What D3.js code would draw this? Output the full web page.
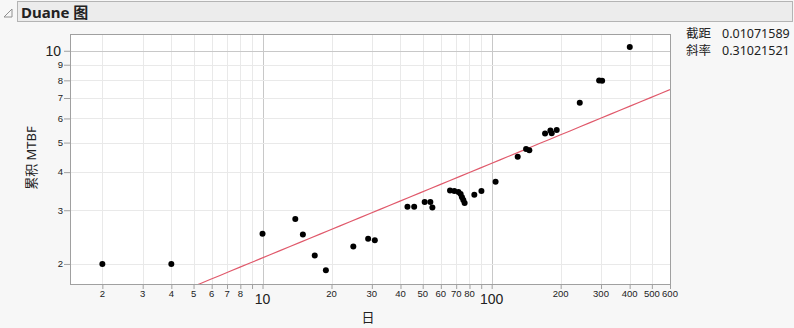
<!DOCTYPE html>
<html>
<head>
<meta charset="utf-8">
<script src="https://cdn.jsdelivr.net/npm/d3@7"></script>
<style>
body{margin:0;background:#f7f7f7;font-family:"Noto Sans","Noto Sans CJK SC",sans-serif;}
svg text{fill:#222;}
</style>
</head>
<body>
<svg id="duane"></svg>
<script>
// failure times (days) and cumulative MTBF
var times=[2,4,10,13.9,15,16.9,18.9,24.9,28.9,30.9,42.9,45.9,51,54,55.1,65.8,68.7,71.6,73.2,74.2,75.2,76.2,84,90.2,104,129.9,141.3,146,171,180.4,182.8,192.2,242.3,294.4,303.4,400.5]
var mtbf=[2,2,2.51,2.81,2.5,2.13,1.906,2.28,2.42,2.39,3.08,3.08,3.19,3.19,3.06,3.48,3.47,3.44,3.39,3.31,3.24,3.17,3.37,3.47,3.72,4.49,4.76,4.72,5.35,5.48,5.37,5.5,6.75,7.99,7.97,10.28]
var fitNames=["截距","斜率"]
var fitValues=["0.01071589","0.31021521"]
var intercept=0.01071589, slope=0.31021521
var xTicks=[2,3,4,5,6,7,8,9,10,20,30,40,50,60,70,80,90,100,200,300,400,500,600]
var xLabels={2:"2",3:"3",4:"4",5:"5",6:"6",7:"7",8:"8",20:"20",30:"30",40:"40",50:"50",60:"60",70:"70",80:"80",200:"200",300:"300",400:"400",500:"500",600:"600"}
var xMajor=[10,100]
var yTicks=[2,3,4,5,6,7,8,9,10]
var yMajor=[10]

var screen={width:794,height:328}
var margins={left:70,top:34,right:124,bottom:44}
var graph={width:screen.width-margins.left-margins.right,height:screen.height-margins.top-margins.bottom}

var svg=d3.select("#duane").attr("width",screen.width).attr("height",screen.height)

// title bar
svg.append("rect").attr("x",17.5).attr("y",1.5).attr("width",775).attr("height",20)
    .attr("fill","#ececec").attr("stroke","#b4b4b4")
svg.append("path").attr("d","M4,17 L12,9 L12,17 Z").attr("fill","none").attr("stroke","#909090")
svg.append("text").text("Duane 图").attr("x",21).attr("y",17.5)
    .attr("font-size",15).attr("font-weight","bold").attr("fill","#000")

var xScale=d3.scaleLog().domain([1.445,600]).range([0,graph.width])
var yScale=d3.scaleLog().domain([1.719,11.35]).range([graph.height,0])

var plot=svg.append("g").attr("transform","translate("+margins.left+","+margins.top+")")
plot.append("rect").attr("width",graph.width).attr("height",graph.height).attr("fill","#fff")

// grid
plot.selectAll(".vg").data(xTicks).enter().append("line")
    .attr("x1",function(d){return Math.round(xScale(d))+0.5}).attr("x2",function(d){return Math.round(xScale(d))+0.5})
    .attr("y1",0).attr("y2",graph.height)
    .attr("stroke",function(d){return xMajor.indexOf(d)>=0?"#c8c8c8":"#e9e9e9"})
plot.selectAll(".hg").data(yTicks).enter().append("line")
    .attr("y1",function(d){return Math.round(yScale(d))+0.5}).attr("y2",function(d){return Math.round(yScale(d))+0.5})
    .attr("x1",0).attr("x2",graph.width)
    .attr("stroke",function(d){return yMajor.indexOf(d)>=0?"#c8c8c8":"#e9e9e9"})

// fit line, clipped to plot
plot.append("clipPath").attr("id","clip").append("rect").attr("width",graph.width).attr("height",graph.height)
var lineX=d3.range(0,61).map(function(i){return 1.445*Math.pow(600/1.445,i/60)})
var line=d3.line()
    .x(function(t){return xScale(t)})
    .y(function(t){return yScale(Math.pow(10,intercept+slope*Math.log10(t)))})
plot.append("path").datum(lineX).attr("d",line).attr("fill","none")
    .attr("stroke","#e0596b").attr("stroke-width",1.2).attr("clip-path","url(#clip)")

// points
plot.selectAll("circle").data(times).enter().append("circle")
    .attr("cx",function(d){return xScale(d)})
    .attr("cy",function(d,i){return yScale(mtbf[i])})
    .attr("r",3).attr("fill","#000")

// frame
plot.append("rect").attr("x",0.5).attr("y",0.5).attr("width",graph.width).attr("height",graph.height)
    .attr("fill","none").attr("stroke","#a0a0a0")

// axes
var xAxis=d3.axisBottom(xScale).tickValues(xTicks).tickSize(5).tickFormat(function(d){return ""})
var xg=plot.append("g").attr("transform","translate(0,"+graph.height+")").call(xAxis)
xg.select(".domain").remove()
xg.selectAll(".tick line").attr("stroke","#a0a0a0")
xg.selectAll(".tick text").remove()
xg.selectAll(".lab").data(xTicks).enter().append("text")
    .attr("x",function(d){return xScale(d)})
    .attr("y",function(d){return xMajor.indexOf(d)>=0?20:13})
    .attr("text-anchor","middle")
    .attr("font-size",function(d){return xMajor.indexOf(d)>=0?14:9.5})
    .text(function(d){return xMajor.indexOf(d)>=0?String(d):(xLabels[d]||"")})

var yAxis=d3.axisLeft(yScale).tickValues(yTicks).tickSize(6).tickFormat(function(d){return ""})
var yg=plot.append("g").call(yAxis)
yg.select(".domain").remove()
yg.selectAll(".tick line").attr("stroke","#a0a0a0")
yg.selectAll(".tick text").remove()
yg.selectAll(".lab").data(yTicks).enter().append("text")
    .attr("x",function(d){return yMajor.indexOf(d)>=0?-9:-7})
    .attr("y",function(d){return yScale(d)})
    .attr("dy","0.35em")
    .attr("text-anchor","end")
    .attr("font-size",function(d){return yMajor.indexOf(d)>=0?14:9.5})
    .text(function(d){return String(d)})

// axis labels
svg.append("text").text("日").attr("x",368).attr("y",322).attr("text-anchor","middle").attr("font-size",13)
svg.append("g").attr("transform","translate(36,158)").append("text").text("累积 MTBF")
    .attr("text-anchor","middle").attr("transform","rotate(-90)").attr("font-size",13)

// fit report
var rep=svg.append("g")
rep.selectAll(".n").data(fitNames).enter().append("text")
    .attr("x",686).attr("y",function(d,i){return 38+i*17}).attr("font-size",12.5).text(function(d){return d})
rep.selectAll(".v").data(fitValues).enter().append("text")
    .attr("x",722).attr("y",function(d,i){return 38+i*17}).attr("font-size",12.5).text(function(d){return d})
</script>
</body>
</html>
